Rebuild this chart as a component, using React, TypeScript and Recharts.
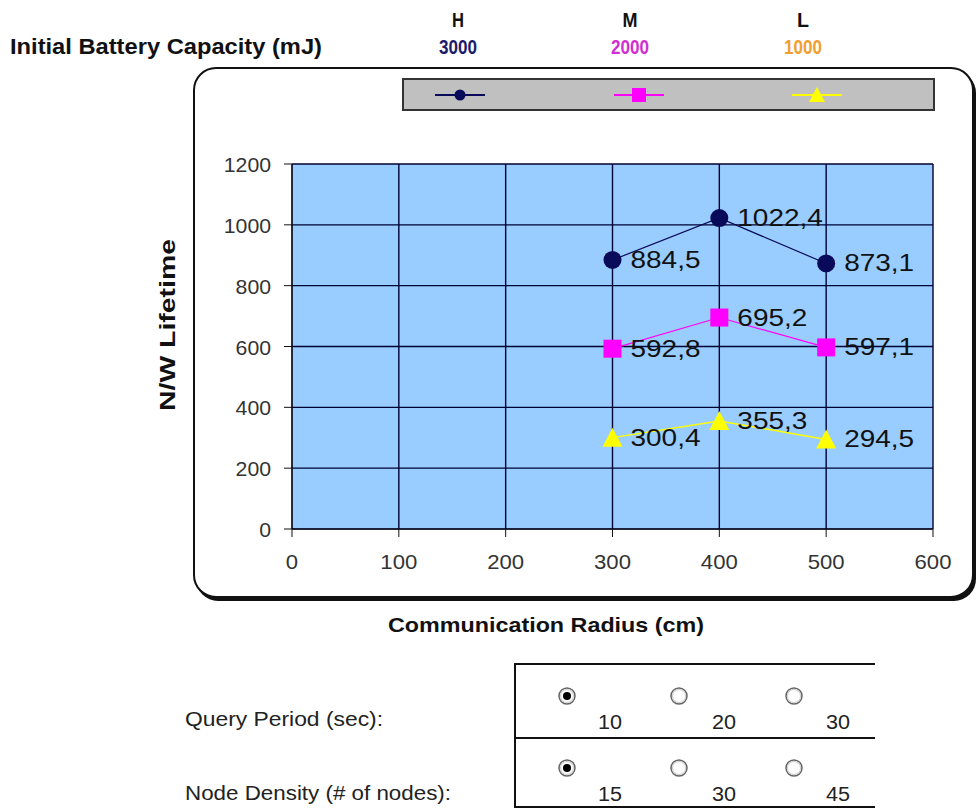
import { LineChart, Line, XAxis, YAxis, CartesianGrid, LabelList } from 'recharts';

const radius = [300, 400, 500];
const highCap = [884.5, 1022.4, 873.1];
const midCap = [592.8, 695.2, 597.1];
const lowCap = [300.4, 355.3, 294.5];
const xTicks = [0, 100, 200, 300, 400, 500, 600];
const yTicks = [0, 200, 400, 600, 800, 1000, 1200];

const levelKeys = ['H', 'M', 'L'];
const levelValues = ['3000', '2000', '1000'];
const levelColors = ['#1c1c6b', '#d030d0', '#f0a030'];
const queryPeriods = ['10', '20', '30'];
const nodeDensities = ['15', '30', '45'];

const data = radius.map((r, i) => ({ r, h: highCap[i], m: midCap[i], l: lowCap[i] }));

const sans = '"Liberation Sans", Arial, sans-serif';
const NAVY = '#0a0a5a';

const fmt = (v: any) => String(v).replace('.', ',');

// svg text squeezed/stretched to a measured width
const Txt = ({ x, y, w, size, bold, fill = '#111', anchor = 'start', children }: any) => (
  <text
    x={x}
    y={y}
    fontFamily={sans}
    fontSize={size}
    fontWeight={bold ? 'bold' : 'normal'}
    fill={fill}
    textAnchor={anchor}
    textLength={w}
    lengthAdjust="spacingAndGlyphs"
  >
    {children}
  </text>
);

const ValueLabel = (props: any) => {
  const { x, y, value } = props;
  const s = fmt(value);
  const w = s.replace(',', '').length * 15.5 + 8;
  return (
    <Txt x={x + 18} y={y + 8} w={w} size={23} fill="#111">
      {s}
    </Txt>
  );
};

const Square = (props: any) => {
  const { cx, cy } = props;
  return <rect x={cx - 9} y={cy - 9} width={18} height={18} fill="#ff00ff" />;
};

const Triangle = (props: any) => {
  const { cx, cy } = props;
  return <polygon points={`${cx},${cy - 10} ${cx + 10},${cy + 9} ${cx - 10},${cy + 9}`} fill="#ffff00" />;
};

const Dot = (props: any) => {
  const { cx, cy } = props;
  return <circle cx={cx} cy={cy} r={9} fill={NAVY} />;
};

const XTick = (props: any) => {
  const { x, y, payload } = props;
  return (
    <Txt x={x} y={y + 30} w={String(payload.value).length * 12.3} size={21} fill="#333" anchor="middle">
      {payload.value}
    </Txt>
  );
};

const YTick = (props: any) => {
  const { x, y, payload } = props;
  return (
    <Txt x={x} y={y + 8} w={String(payload.value).length * 11.8} size={21} fill="#333" anchor="end">
      {payload.value}
    </Txt>
  );
};

const Radio = ({ checked, x, y }: { checked: boolean; x: number; y: number }) => (
  <g>
    <circle cx={x} cy={y} r={8} fill="#fff" stroke="#666" strokeWidth={1.5} />
    <circle cx={x} cy={y} r={6.5} fill="none" stroke="#ccc" strokeWidth={1} />
    {checked && <circle cx={x} cy={y} r={4} fill="#000" />}
  </g>
);

const legendX = [460, 639, 817];
const headerX = [458, 630, 803];
const radioX = [567, 679, 794];
const optLabelX = [610, 724, 838];

export default function App() {
  return (
    <div style={{ position: 'absolute', left: 0, top: 0, width: 979, height: 809, background: '#fff', overflow: 'hidden' }}>
      {/* frame behind the chart */}
      <svg width={979} height={809} style={{ position: 'absolute', left: 0, top: 0 }}>
        <rect x={196} y={71} width={780} height={530} rx={22} fill="#111" />
        <rect x={194} y={68} width={779} height={529} rx={22} fill="#fff" stroke="#111" strokeWidth={2} />
      </svg>

      <div style={{ position: 'absolute', left: 0, top: 0 }}>
        <LineChart width={979} height={809} data={data} margin={{ top: 164, right: 46, left: 232, bottom: 250 }}>
          <CartesianGrid stroke="#000033" strokeWidth={1.4} fill="#99ccff" />
          <XAxis
            dataKey="r"
            type="number"
            domain={[0, 600]}
            ticks={xTicks}
            height={30}
            tickSize={8}
            stroke="#111"
            tick={<XTick />}
          />
          <YAxis
            type="number"
            domain={[0, 1200]}
            ticks={yTicks}
            width={60}
            tickSize={8}
            tickMargin={13}
            stroke="#111"
            tick={<YTick />}
          />
          <Line dataKey="h" stroke={NAVY} strokeWidth={1.2} dot={<Dot />} isAnimationActive={false}>
            <LabelList dataKey="h" content={<ValueLabel />} />
          </Line>
          <Line dataKey="m" stroke="#ff00ff" strokeWidth={1.2} dot={<Square />} isAnimationActive={false}>
            <LabelList dataKey="m" content={<ValueLabel />} />
          </Line>
          <Line dataKey="l" stroke="#ffff00" strokeWidth={1.5} dot={<Triangle />} isAnimationActive={false}>
            <LabelList dataKey="l" content={<ValueLabel />} />
          </Line>
        </LineChart>
      </div>

      {/* overlay: header, legend, titles, parameter panel */}
      <svg width={979} height={809} style={{ position: 'absolute', left: 0, top: 0 }}>
        <Txt x={10} y={54} w={312} size={22} bold>
          Initial Battery Capacity (mJ)
        </Txt>
        {levelKeys.map((k, i) => (
          <g key={k}>
            <Txt x={headerX[i]} y={27} w={k === 'M' ? 15 : 12} size={20} bold anchor="middle">
              {k}
            </Txt>
            <Txt x={headerX[i]} y={54} w={38} size={21} bold fill={levelColors[i]} anchor="middle">
              {levelValues[i]}
            </Txt>
          </g>
        ))}

        <rect x={403} y={79} width={531} height={31} fill="#c0c0c0" stroke="#333" strokeWidth={2} />
        <line x1={legendX[0] - 25} x2={legendX[0] + 25} y1={95} y2={95} stroke={NAVY} strokeWidth={2} />
        <circle cx={legendX[0]} cy={95} r={5.5} fill={NAVY} />
        <line x1={legendX[1] - 25} x2={legendX[1] + 25} y1={95} y2={95} stroke="#ff00ff" strokeWidth={2} />
        <rect x={legendX[1] - 7} y={88} width={14} height={14} fill="#ff00ff" />
        <line x1={legendX[2] - 25} x2={legendX[2] + 25} y1={95} y2={95} stroke="#ffff00" strokeWidth={2} />
        <polygon points={`${legendX[2]},87 ${legendX[2] + 8},102 ${legendX[2] - 8},102`} fill="#ffff00" />

        <g transform="translate(175,325) rotate(-90)">
          <Txt x={0} y={0} w={172} size={22} bold anchor="middle">
            N/W Lifetime
          </Txt>
        </g>

        <Txt x={388} y={632} w={316} size={21} bold>
          Communication Radius (cm)
        </Txt>

        <line x1={515} x2={875} y1={664} y2={664} stroke="#111" strokeWidth={2} />
        <line x1={515} x2={875} y1={738} y2={738} stroke="#111" strokeWidth={2} />
        <line x1={515} x2={875} y1={807} y2={807} stroke="#111" strokeWidth={2} />
        <line x1={515} x2={515} y1={663} y2={808} stroke="#111" strokeWidth={2} />

        <Txt x={185} y={726} w={198} size={21} fill="#222">
          Query Period (sec):
        </Txt>
        <Txt x={185} y={800} w={266} size={21} fill="#222">
          Node Density (# of nodes):
        </Txt>
        {queryPeriods.map((q, i) => (
          <g key={'q' + q}>
            <Radio checked={i === 0} x={radioX[i]} y={696} />
            <Txt x={optLabelX[i]} y={729} w={24} size={20} fill="#222" anchor="middle">
              {q}
            </Txt>
          </g>
        ))}
        {nodeDensities.map((n, i) => (
          <g key={'n' + n}>
            <Radio checked={i === 0} x={radioX[i]} y={768} />
            <Txt x={optLabelX[i]} y={801} w={24} size={20} fill="#222" anchor="middle">
              {n}
            </Txt>
          </g>
        ))}
      </svg>
    </div>
  );
}
